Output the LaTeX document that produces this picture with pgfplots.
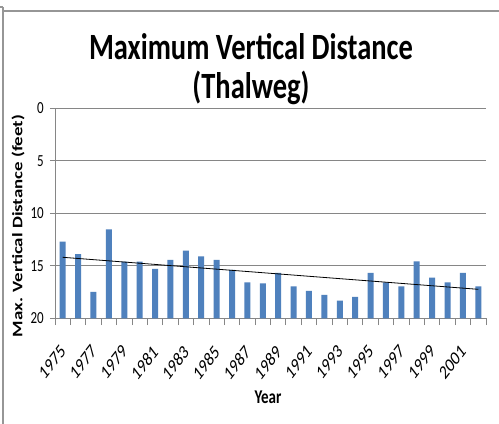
\documentclass[border=0pt]{standalone}
\usepackage{pgfplots}
\pgfplotsset{compat=1.18}
\usepackage{pgfplotstable}
\usepackage{fontspec}
\setmainfont{Carlito}
\definecolor{barblue}{HTML}{4F81BD}
\definecolor{gridgray}{RGB}{134,134,134}
\definecolor{framegray}{RGB}{150,150,150}

\pgfplotstableread{
x v
0 12.70
1 13.90
2 17.49
3 11.52
4 14.60
5 14.60
6 15.30
7 14.44
8 13.56
9 14.10
10 14.44
11 15.40
12 16.57
13 16.67
14 15.68
15 16.95
16 17.40
17 17.78
18 18.32
19 17.97
20 15.68
21 16.57
22 16.95
23 14.57
24 16.13
25 16.57
26 15.68
27 16.95
}\datatable

\begin{document}
\begin{tikzpicture}
\useasboundingbox (0bp,0bp) rectangle (499bp,424bp);
\fill[white] (0bp,0bp) rectangle (499bp,424bp);
\draw[framegray, line width=2.5bp] (3bp,0bp) -- (3bp,417bp);
\draw[framegray, line width=2bp] (4bp,413bp) -- (499bp,413bp);
\draw[framegray, line width=1.5bp] (0bp,417bp) -- (3bp,417bp);

\begin{axis}[
  at={(55bp,105.7bp)}, anchor=south west,
  scale only axis, width=431bp, height=210bp,
  xmin=-0.5, xmax=27.5, ymin=0, ymax=20,
  y filter/.expression={20-y},
  /pgf/number format/assume math mode=true,
  axis x line*=bottom, axis y line*=left,
  axis line style={gridgray, line width=0.8bp},
  ymajorgrids, grid style={gridgray, line width=0.8bp},
  ytick={0,5,10,15,20}, yticklabels={20,15,10,5,0},
  xtick={0,2,...,26},
  xticklabels={},
  minor xtick={-0.5,0.5,...,27.5},
  tick align=outside,
  major tick length=5bp, minor tick length=6.7bp,
  major x tick style={draw=none},
  tick style={gridgray, line width=0.8bp},
  yticklabel style={xshift=-6bp, font=\fontsize{13bp}{15bp}\selectfont, yscale=1.3, anchor=east, inner sep=0pt},
]
\addplot[ybar, bar width=6bp, fill=barblue, draw=none] table[x=x, y=v] {\datatable};
\addplot[black, line width=0.8bp, sharp plot, mark=none] coordinates {(0,14.19) (27,17.24)};
\coordinate (l0) at (rel axis cs:0.017857,0);
\coordinate (l1) at (rel axis cs:0.089286,0);
\coordinate (l2) at (rel axis cs:0.160714,0);
\coordinate (l3) at (rel axis cs:0.232143,0);
\coordinate (l4) at (rel axis cs:0.303571,0);
\coordinate (l5) at (rel axis cs:0.375,0);
\coordinate (l6) at (rel axis cs:0.446429,0);
\coordinate (l7) at (rel axis cs:0.517857,0);
\coordinate (l8) at (rel axis cs:0.589286,0);
\coordinate (l9) at (rel axis cs:0.660714,0);
\coordinate (l10) at (rel axis cs:0.732143,0);
\coordinate (l11) at (rel axis cs:0.803571,0);
\coordinate (l12) at (rel axis cs:0.875,0);
\coordinate (l13) at (rel axis cs:0.946429,0);
\end{axis}

\tikzset{xl/.style={xshift=0.5bp, yshift=-30bp, font=\fontsize{15bp}{17bp}\selectfont, yscale=1.3, rotate=45, anchor=east, inner sep=0pt}}
\node[xl] at (l0) {1975};
\node[xl] at (l1) {1977};
\node[xl] at (l2) {1979};
\node[xl] at (l3) {1981};
\node[xl] at (l4) {1983};
\node[xl] at (l5) {1985};
\node[xl] at (l6) {1987};
\node[xl] at (l7) {1989};
\node[xl] at (l8) {1991};
\node[xl] at (l9) {1993};
\node[xl] at (l10) {1995};
\node[xl] at (l11) {1997};
\node[xl] at (l12) {1999};
\node[xl] at (l13) {2001};

\node[font=\bfseries\fontsize{28.5bp}{32bp}\selectfont, yscale=1.3] at (251bp,377bp) {Maximum Vertical Distance};
\node[font=\bfseries\fontsize{28.5bp}{32bp}\selectfont, yscale=1.3] at (251bp,336bp) {(Thalweg)};
\node[font=\bfseries\fontsize{14.5bp}{17bp}\selectfont, yscale=1.3, rotate=90] at (18bp,198bp) {Max. Vertical Distance (feet)};
\node[font=\bfseries\fontsize{15bp}{18bp}\selectfont, yscale=1.3] at (268bp,27bp) {Year};
\end{tikzpicture}
\end{document}
